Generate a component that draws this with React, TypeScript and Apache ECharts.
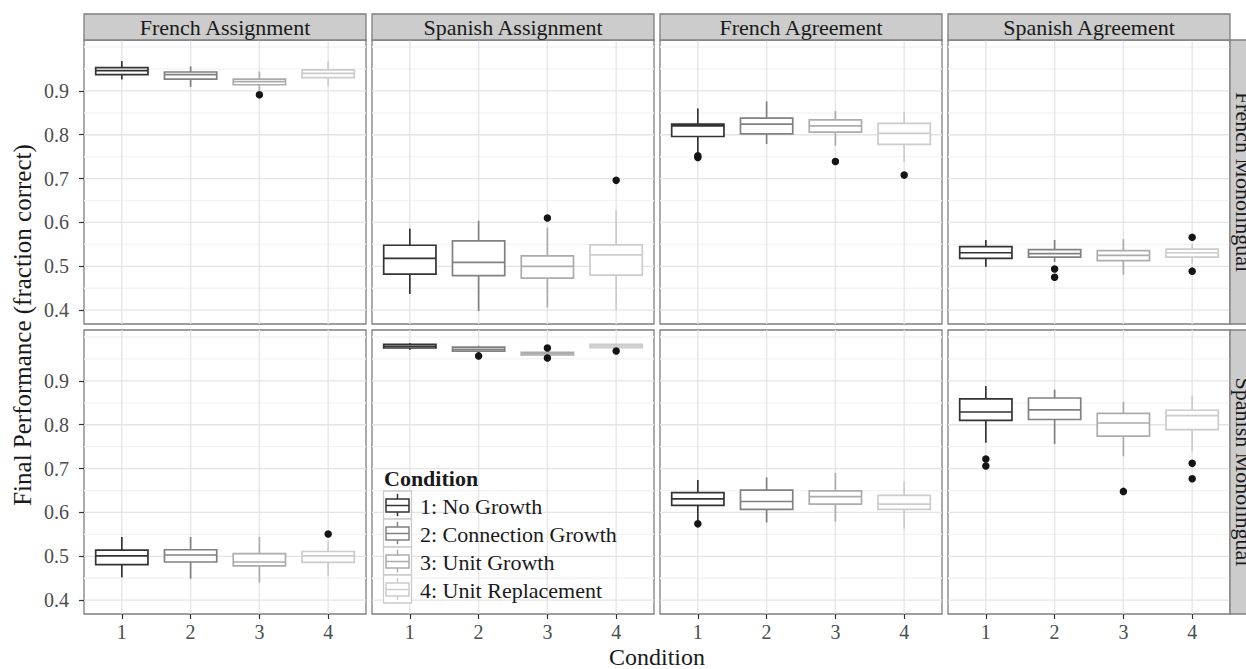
import React, { useEffect, useRef } from "react";
import * as echarts from "echarts";

// ---------- data ----------
const conditions = ["1: No Growth", "2: Connection Growth", "3: Unit Growth", "4: Unit Replacement"];
const conditionTicks = [1, 2, 3, 4];
const conditionColors = ["#333333", "#818181", "#acacac", "#cccccc"];
const tasks = ["French Assignment", "Spanish Assignment", "French Agreement", "Spanish Agreement"];
const trainings = ["French Monolingual", "Spanish Monolingual"];
const yTickValues = [0.4, 0.5, 0.6, 0.7, 0.8, 0.9];
const yMinorValues = [0.45, 0.55, 0.65, 0.75, 0.85, 0.95, 1.0];

// box stats per condition: [lower whisker, q1, median, q3, upper whisker]
const frMonoFrAssignBoxes = [
  [0.926, 0.937, 0.946, 0.953, 0.968],
  [0.909, 0.927, 0.937, 0.943, 0.956],
  [0.900, 0.914, 0.921, 0.927, 0.944],
  [0.911, 0.930, 0.940, 0.948, 0.968],
];
const frMonoFrAssignOutliers = [[3, 0.891]];

const frMonoEsAssignBoxes = [
  [0.437, 0.482, 0.518, 0.548, 0.586],
  [0.398, 0.479, 0.509, 0.558, 0.604],
  [0.406, 0.473, 0.500, 0.524, 0.588],
  [0.400, 0.480, 0.526, 0.549, 0.628],
];
const frMonoEsAssignOutliers = [[3, 0.610], [4, 0.696]];

const frMonoFrAgreeBoxes = [
  [0.757, 0.796, 0.820, 0.824, 0.860],
  [0.779, 0.802, 0.824, 0.838, 0.876],
  [0.775, 0.806, 0.820, 0.834, 0.854],
  [0.738, 0.778, 0.803, 0.826, 0.852],
];
const frMonoFrAgreeOutliers = [[1, 0.752], [1, 0.748], [3, 0.739], [4, 0.708]];

const frMonoEsAgreeBoxes = [
  [0.499, 0.518, 0.531, 0.545, 0.560],
  [0.510, 0.521, 0.529, 0.538, 0.560],
  [0.481, 0.513, 0.525, 0.536, 0.562],
  [0.506, 0.521, 0.531, 0.539, 0.551],
];
const frMonoEsAgreeOutliers = [[2, 0.494], [2, 0.475], [4, 0.566], [4, 0.489]];

const esMonoFrAssignBoxes = [
  [0.452, 0.481, 0.501, 0.514, 0.544],
  [0.449, 0.487, 0.503, 0.515, 0.544],
  [0.440, 0.478, 0.487, 0.506, 0.544],
  [0.456, 0.486, 0.501, 0.511, 0.534],
];
const esMonoFrAssignOutliers = [[4, 0.551]];

const esMonoEsAssignBoxes = [
  [0.971, 0.975, 0.979, 0.983, 0.986],
  [0.963, 0.968, 0.972, 0.977, 0.980],
  [0.956, 0.959, 0.962, 0.965, 0.969],
  [0.973, 0.976, 0.980, 0.983, 0.985],
];
const esMonoEsAssignOutliers = [[2, 0.957], [3, 0.975], [3, 0.952], [4, 0.968]];

const esMonoFrAgreeBoxes = [
  [0.579, 0.616, 0.631, 0.645, 0.674],
  [0.577, 0.607, 0.625, 0.651, 0.680],
  [0.579, 0.619, 0.636, 0.649, 0.690],
  [0.563, 0.607, 0.619, 0.639, 0.671],
];
const esMonoFrAgreeOutliers = [[1, 0.574]];

const esMonoEsAgreeBoxes = [
  [0.759, 0.810, 0.829, 0.859, 0.888],
  [0.756, 0.812, 0.834, 0.861, 0.880],
  [0.728, 0.774, 0.804, 0.826, 0.852],
  [0.739, 0.789, 0.821, 0.833, 0.866],
];
const esMonoEsAgreeOutliers = [[1, 0.722], [1, 0.706], [3, 0.648], [4, 0.712], [4, 0.677]];

const panelBoxes = [
  [frMonoFrAssignBoxes, frMonoEsAssignBoxes, frMonoFrAgreeBoxes, frMonoEsAgreeBoxes],
  [esMonoFrAssignBoxes, esMonoEsAssignBoxes, esMonoFrAgreeBoxes, esMonoEsAgreeBoxes],
];
const panelOutliers = [
  [frMonoFrAssignOutliers, frMonoEsAssignOutliers, frMonoFrAgreeOutliers, frMonoEsAgreeOutliers],
  [esMonoFrAssignOutliers, esMonoEsAssignOutliers, esMonoFrAgreeOutliers, esMonoEsAgreeOutliers],
];

// ---------- layout / style ----------
const FONT = '"Liberation Serif", "Times New Roman", serif';
const COL_LEFTS = [84, 372, 660, 948];
const ROW_TOPS = [40, 330];
const PANEL_W = 282;
const PANEL_H = 284;
const X_MIN = 0.45;
const X_MAX = 4.55;
const Y_MIN = 0.3685;
const Y_MAX = 1.016;
const BOX_HALF = 0.38;
const BORDER = "#7f7f7f";
const STRIP_FILL = "#cccccc";
const TEXT_DARK = "#1a1a1a";
const TICK_TEXT = "#4d4d4d";

function buildOption() {
  const grids: any[] = [];
  const xAxes: any[] = [];
  const yAxes: any[] = [];
  const series: any[] = [];
  const graphics: any[] = [];

  let gi = 0;
  for (let r = 0; r < 2; r++) {
    for (let c = 0; c < 4; c++) {
      grids.push({
        left: COL_LEFTS[c],
        top: ROW_TOPS[r],
        width: PANEL_W,
        height: PANEL_H,
        show: true,
        borderColor: BORDER,
        borderWidth: 1.3,
        backgroundColor: "#ffffff",
        containLabel: false,
        outerBoundsMode: "none",
      });
      xAxes.push({
        gridIndex: gi,
        type: "value",
        min: X_MIN,
        max: X_MAX,
        show: r === 1,
        axisLine: { show: false },
        splitLine: { show: false },
        axisTick: {
          show: r === 1,
          customValues: conditionTicks,
          length: 5,
          lineStyle: { color: "#333333", width: 1.2 },
        },
        axisLabel: {
          show: r === 1,
          customValues: conditionTicks,
          margin: 8,
          fontSize: 20,
          fontFamily: FONT,
          color: TICK_TEXT,
        },
      });
      yAxes.push({
        gridIndex: gi,
        type: "value",
        min: Y_MIN,
        max: Y_MAX,
        show: c === 0,
        axisLine: { show: false },
        splitLine: { show: false },
        axisTick: {
          show: c === 0,
          customValues: yTickValues,
          length: 5,
          lineStyle: { color: "#333333", width: 1.2 },
        },
        axisLabel: {
          show: c === 0,
          customValues: yTickValues,
          margin: 15,
          fontSize: 20,
          fontFamily: FONT,
          color: TICK_TEXT,
          formatter: (v: number) => v.toFixed(1),
        },
      });

      // grid lines
      const gridData: number[][] = [];
      yTickValues.forEach((v) => gridData.push([X_MIN, v, 0, 1]));
      yMinorValues.forEach((v) => gridData.push([X_MIN, v, 0, 0]));
      conditionTicks.forEach((v) => gridData.push([v, Y_MIN, 1, 1]));
      series.push({
        type: "custom",
        xAxisIndex: gi,
        yAxisIndex: gi,
        z: 1,
        silent: true,
        data: gridData,
        renderItem: (_p: any, api: any) => {
          const vert = api.value(2) === 1;
          const major = api.value(3) === 1;
          let p1, p2;
          if (vert) {
            p1 = api.coord([api.value(0), Y_MIN]);
            p2 = api.coord([api.value(0), Y_MAX]);
          } else {
            p1 = api.coord([X_MIN, api.value(1)]);
            p2 = api.coord([X_MAX, api.value(1)]);
          }
          return {
            type: "line",
            shape: { x1: p1[0], y1: p1[1], x2: p2[0], y2: p2[1] },
            style: { stroke: major ? "#e4e4e4" : "#f3f3f3", lineWidth: 1.3 },
          };
        },
      });

      // boxes
      const boxes = panelBoxes[r][c];
      series.push({
        type: "custom",
        name: tasks[c] + " / " + trainings[r],
        xAxisIndex: gi,
        yAxisIndex: gi,
        z: 3,
        encode: { x: 0, y: [1, 2, 3, 4, 5] },
        data: boxes.map((b, i) => [conditionTicks[i], ...b]),
        renderItem: (_p: any, api: any) => {
          const x = api.value(0);
          const lo = api.value(1);
          const q1 = api.value(2);
          const med = api.value(3);
          const q3 = api.value(4);
          const hi = api.value(5);
          const color = conditionColors[x - 1];
          const pLo = api.coord([x, lo]);
          const pQ1 = api.coord([x, q1]);
          const pMed = api.coord([x, med]);
          const pQ3 = api.coord([x, q3]);
          const pHi = api.coord([x, hi]);
          const left = api.coord([x - BOX_HALF, q3])[0];
          const right = api.coord([x + BOX_HALF, q3])[0];
          const st = { stroke: color, lineWidth: 1.7, fill: "none" };
          return {
            type: "group",
            children: [
              { type: "line", shape: { x1: pHi[0], y1: pHi[1], x2: pQ3[0], y2: pQ3[1] }, style: st },
              { type: "line", shape: { x1: pQ1[0], y1: pQ1[1], x2: pLo[0], y2: pLo[1] }, style: st },
              {
                type: "rect",
                shape: { x: left, y: pQ3[1], width: right - left, height: pQ1[1] - pQ3[1] },
                style: { ...st, fill: "#ffffff" },
              },
              { type: "line", shape: { x1: left, y1: pMed[1], x2: right, y2: pMed[1] }, style: st },
            ],
          };
        },
      });

      // outliers
      series.push({
        type: "scatter",
        xAxisIndex: gi,
        yAxisIndex: gi,
        z: 4,
        symbol: "circle",
        symbolSize: 7.5,
        itemStyle: { color: "#141414", opacity: 1 },
        data: panelOutliers[r][c],
      });

      gi++;
    }
  }

  // top strips
  for (let c = 0; c < 4; c++) {
    graphics.push({
      type: "rect",
      shape: { x: COL_LEFTS[c], y: 14, width: PANEL_W, height: 26 },
      style: { fill: STRIP_FILL, stroke: BORDER, lineWidth: 1.3 },
      z: 10,
    });
    graphics.push({
      type: "text",
      x: COL_LEFTS[c] + PANEL_W / 2,
      y: 27,
      z: 11,
      style: {
        text: tasks[c],
        font: `22px ${FONT}`,
        fill: TEXT_DARK,
        align: "center",
        verticalAlign: "middle",
      },
    });
  }
  // right strips
  for (let r = 0; r < 2; r++) {
    graphics.push({
      type: "rect",
      shape: { x: 1230, y: ROW_TOPS[r], width: 24, height: PANEL_H },
      style: { fill: STRIP_FILL, stroke: BORDER, lineWidth: 1.3 },
      z: 10,
    });
    graphics.push({
      type: "text",
      x: 1243,
      y: ROW_TOPS[r] + PANEL_H / 2,
      rotation: -Math.PI / 2,
      z: 11,
      style: {
        text: trainings[r],
        font: `22px ${FONT}`,
        fill: TEXT_DARK,
        align: "center",
        verticalAlign: "middle",
      },
    });
  }
  // axis titles
  graphics.push({
    type: "text",
    x: 22,
    y: 325,
    rotation: Math.PI / 2,
    z: 11,
    style: {
      text: "Final Performance (fraction correct)",
      font: `25px ${FONT}`,
      fill: TEXT_DARK,
      align: "center",
      verticalAlign: "middle",
    },
  });
  graphics.push({
    type: "text",
    x: 657,
    y: 657,
    z: 11,
    style: {
      text: "Condition",
      font: `24px ${FONT}`,
      fill: TEXT_DARK,
      align: "center",
      verticalAlign: "middle",
    },
  });

  // legend
  const legX = 383.5;
  const legY = 491;
  const key = 28;
  graphics.push({
    type: "text",
    x: 384,
    y: 478,
    z: 20,
    style: {
      text: "Condition",
      font: `bold 22px ${FONT}`,
      fill: TEXT_DARK,
      align: "left",
      verticalAlign: "middle",
    },
  });
  conditions.forEach((name, i) => {
    const y0 = legY + i * key;
    const col = conditionColors[i];
    const st = { stroke: col, lineWidth: 1.5, fill: "none" };
    graphics.push({
      type: "rect",
      z: 20,
      shape: { x: legX, y: y0, width: key, height: key },
      style: { fill: "#ffffff", stroke: "#cccccc", lineWidth: 1.3 },
    });
    const cx = legX + key / 2;
    graphics.push({
      type: "line",
      z: 21,
      shape: { x1: cx, y1: y0 + 2.8, x2: cx, y2: y0 + 8 },
      style: st,
    });
    graphics.push({
      type: "line",
      z: 21,
      shape: { x1: cx, y1: y0 + 21, x2: cx, y2: y0 + 25.2 },
      style: st,
    });
    graphics.push({
      type: "rect",
      z: 21,
      shape: { x: legX + 2.5, y: y0 + 8, width: key - 5, height: 13 },
      style: st,
    });
    graphics.push({
      type: "line",
      z: 21,
      shape: { x1: legX + 2.5, y1: y0 + 14.5, x2: legX + key - 2.5, y2: y0 + 14.5 },
      style: st,
    });
    graphics.push({
      type: "text",
      x: 420,
      y: y0 + 15,
      z: 21,
      style: {
        text: name,
        font: `22px ${FONT}`,
        fill: TEXT_DARK,
        align: "left",
        verticalAlign: "middle",
      },
    });
  });

  return {
    animation: false,
    backgroundColor: "#ffffff",
    grid: grids,
    xAxis: xAxes,
    yAxis: yAxes,
    series,
    graphic: graphics,
  };
}

export default function App() {
  const ref = useRef<HTMLDivElement>(null);
  useEffect(() => {
    if (!ref.current) return;
    const chart = echarts.init(ref.current, null, { renderer: "svg" });
    chart.setOption(buildOption() as any);
    return () => chart.dispose();
  }, []);
  return (
    <div
      ref={ref}
      style={{ position: "absolute", left: 0, top: 0, width: 1246, height: 669, background: "#fff" }}
    />
  );
}
